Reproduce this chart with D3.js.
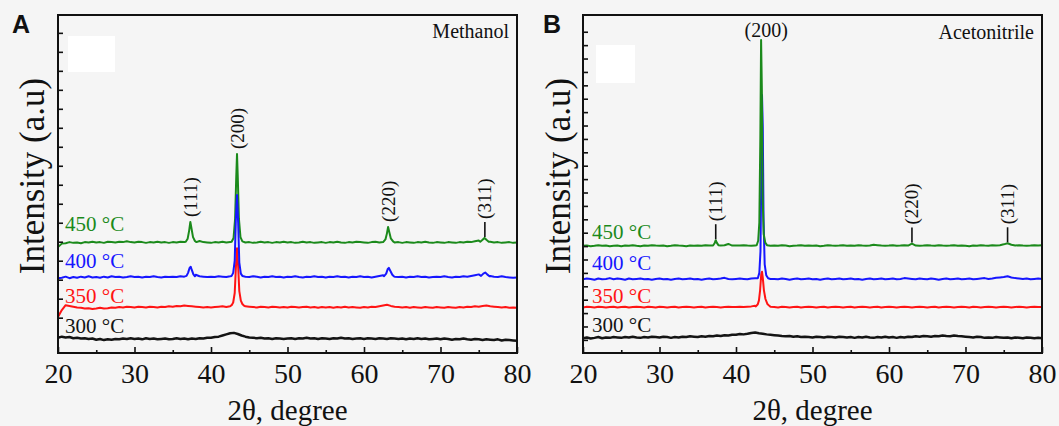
<!DOCTYPE html>
<html>
<head>
<meta charset="utf-8">
<script src="https://cdn.jsdelivr.net/npm/d3@7"></script>
<style>
  html, body { margin: 0; padding: 0; background: #f5f5f5; }
  svg { display: block; }
</style>
</head>
<body>
<svg id="chart" width="1059" height="426"></svg>
<script>
// ---------- XRD patterns (2θ from 20° to 80°, 0.5° step) ----------
const twoThetaStart = 20;
const twoThetaStep = 0.5;
const twoThetaTicks = [20, 30, 40, 50, 60, 70, 80];
const twoThetaMinorTicks = [25, 35, 45, 55, 65, 75];
const tempLabels = ["300 \u00B0C", "350 \u00B0C", "400 \u00B0C", "450 \u00B0C"];
const solventNames = ["Methanol", "Acetonitrile"];
const panelLetters = ["A", "B"];
const hklNames = ["(111)", "(200)", "(220)", "(311)"];

// Methanol (panel A), stacked intensity in a.u.
const methanol300 = [
  47,50,48,49,46,47,45,46,44,45, 42,44,41,43,42,44,43,45,44,46,
  44,45,43,46,44,45,43,44,45,43, 44,46,44,45,43,45,44,46,45,47,
  47,49,50,53,56,59,60,57,53,50, 48,47,46,47,45,46,44,46,45,44,
  45,46,44,46,45,47,45,46,44,46, 45,44,46,45,47,45,46,44,45,46,
  44,46,45,44,46,45,44,46,45,44, 45,43,45,44,46,44,45,43,44,45,
  43,45,44,42,44,43,45,43,42,44, 43,41,43,42,41,43,40,42,41,40, 39];
const methanol350 = [
  102,120,133,131,129,127,126,124,125,123, 124,126,124,125,127,126,128,127,129,128,
  127,129,128,127,129,128,127,129,128,130, 129,131,130,132,131,130,129,128,127,128,
  127,128,129,130,128,130,131,130,129,130, 129,128,127,129,128,127,129,128,127,128,
  127,129,128,127,128,129,127,128,126,128, 127,128,126,128,127,129,127,128,127,126,
  128,127,129,128,130,132,134,131,129,128, 127,128,126,128,127,126,128,127,126,128,
  127,126,128,127,126,128,127,129,128,130, 129,131,132,130,129,128,127,128,126,127, 126];
const methanol400 = [
  204,205,208,204,207,205,208,206,209,206, 207,205,208,206,209,207,208,206,207,209,
  207,208,206,208,207,209,207,206,208,207, 208,207,209,208,210,212,213,209,208,207,
  208,207,209,208,207,209,210,208,207,208, 207,209,208,206,208,207,209,207,208,206,
  208,207,209,207,206,208,207,209,207,208, 206,208,207,209,207,208,206,208,207,209,
  207,208,206,208,210,212,214,209,208,207, 208,206,208,207,209,207,208,206,207,208,
  207,209,207,206,208,207,209,208,210,212, 214,216,213,210,208,207,209,207,206,205, 206];
const methanol450 = [
  286,295,296,299,297,298,296,299,298,300, 298,299,297,300,299,298,300,299,301,299,
  298,300,299,297,299,298,300,298,299,297, 299,298,300,299,301,305,310,302,299,298,
  297,299,298,300,298,299,301,299,299,298, 299,297,298,300,298,299,297,299,298,300,
  298,299,297,298,300,298,299,297,298,299, 297,299,298,300,298,297,299,298,300,299,
  298,297,299,300,298,302,308,300,298,299, 297,299,298,297,299,298,300,298,297,299,
  298,297,299,298,297,299,298,300,299,301, 303,306,303,300,298,299,297,298,299,297, 298];

// Reflection profiles, [2θ, intensity]
const methanol300Peaks = [];
const methanol350Peaks = [
  [[42.7,133],[42.9,140],[43.1,165],[43.25,230],[43.4,283],[43.55,235],[43.7,170],[43.9,145],[44.1,136],[44.3,132]]];
const methanol400Peaks = [
  [[36.8,210],[37.0,218],[37.2,231],[37.35,234],[37.5,225],[37.7,214],[37.9,209]],
  [[42.7,210],[42.9,218],[43.1,250],[43.25,360],[43.4,423],[43.55,350],[43.7,245],[43.9,216],[44.1,210]],
  [[62.6,209],[62.9,216],[63.1,228],[63.25,231],[63.45,223],[63.7,213],[63.9,209]],
  [[75.3,210],[75.6,216],[75.85,219],[76.1,214],[76.4,209]]];
const methanol450Peaks = [
  [[36.7,300],[36.95,308],[37.15,330],[37.3,352],[37.45,335],[37.65,312],[37.9,302],[38.1,299]],
  [[42.7,300],[42.95,310],[43.15,360],[43.3,470],[43.4,531],[43.5,470],[43.65,360],[43.85,312],[44.1,301]],
  [[62.5,299],[62.8,306],[63.0,322],[63.15,339],[63.3,326],[63.5,309],[63.8,301],[64.0,298]],
  [[75.2,300],[75.5,305],[75.75,310],[76.0,305],[76.3,300]]];

// Acetonitrile (panel B), stacked intensity in a.u.
const acetonitrile300 = [
  112,118,110,115,121,112,118,115,121,118, 115,121,118,124,118,115,121,118,124,121,
  118,124,121,115,121,118,124,121,127,124, 121,127,124,129,127,132,129,135,132,138,
  138,144,141,146,152,155,149,146,141,138, 135,132,129,127,129,124,127,121,124,121,
  118,124,121,118,124,121,118,124,121,118, 121,115,121,118,124,118,115,121,118,124,
  118,121,115,121,118,124,121,127,124,129, 127,124,129,127,132,129,127,132,129,127,
  124,121,118,124,121,115,118,115,121,118, 115,118,112,118,115,112,118,115,112,115, 112];
const acetonitrile350 = [
  342,348,345,342,348,345,342,345,348,342, 345,348,342,345,348,345,342,348,345,342,
  348,345,342,345,348,342,345,348,345,342, 345,348,342,345,348,345,342,345,348,345,
  345,348,345,348,350,354,379,356,351,348, 345,342,348,345,342,345,348,342,345,348,
  345,342,345,348,342,345,348,345,342,345, 348,342,345,348,345,342,345,348,342,345,
  348,345,342,345,348,345,342,345,348,345, 342,345,348,342,345,348,345,342,345,348,
  345,342,348,345,342,345,348,345,342,345, 348,345,342,345,348,345,342,345,348,345, 345];
const acetonitrile400 = [
  552,558,555,549,558,552,555,561,552,558, 555,549,558,552,555,558,552,555,549,555,
  558,552,555,549,555,558,552,555,558,552, 555,549,555,558,552,555,558,563,555,552,
  555,558,555,552,558,560,600,565,558,555, 555,552,558,555,549,555,558,552,555,558,
  552,555,549,555,558,552,555,558,552,555, 558,552,555,549,555,558,552,555,558,552,
  555,558,552,555,561,558,555,552,558,555, 552,558,555,549,555,558,552,555,558,552,
  555,558,552,555,558,561,555,558,563,566, 569,575,566,561,558,555,558,552,555,558, 555];
const acetonitrile450 = [
  802,804,799,802,807,802,804,799,802,804, 799,804,802,807,802,799,804,802,807,804,
  802,804,799,802,807,804,802,799,804,802, 804,802,807,804,802,810,804,806,816,804,
  804,804,807,804,802,805,833,806,804,802, 804,802,807,804,799,802,804,807,802,804,
  802,804,799,802,807,804,802,804,807,802, 804,802,807,804,802,804,810,807,804,802,
  804,807,802,804,807,804,819,804,802,804, 807,804,802,807,804,802,804,807,802,804,
  802,799,804,802,807,804,802,807,804,807, 813,821,810,804,807,804,802,804,807,804, 807];

const acetonitrile300Peaks = [];
const acetonitrile350Peaks = [
  [[42.6,350],[42.85,366],[43.0,395],[43.15,470],[43.3,590],[43.4,609],[43.5,565],[43.65,470],[43.85,405],[44.1,368],[44.4,352]]];
const acetonitrile400Peaks = [
  [[42.85,560],[43.05,600],[43.2,760],[43.3,1300],[43.4,1927],[43.5,1684],[43.6,1003],[43.75,663],[43.95,583],[44.2,560]]];
const acetonitrile450Peaks = [
  [[37.0,804],[37.2,821],[37.35,844],[37.5,824],[37.7,807]],
  [[42.7,806],[42.9,840],[43.05,975],[43.18,1600],[43.28,2338],[43.38,1967],[43.48,1173],[43.62,890],[43.82,827],[44.05,807]]];

// Reflection positions (2θ) used for the hkl annotations
const methanolHklPos = [37.3, 43.4, 63.15, 75.8];
const acetonitrileHklPos = [37.35, 43.3, 63.0, 75.5];

// Hidden intensity ticks on the left axis
const methanolYDomain = [7, 897];
const methanolYTicks = d3.range(50, 851, 50);
const acetonitrileYDomain = [2, 2525];
const acetonitrileYTicks = d3.range(100, 2401, 100);

// ---------- drawing ----------
const SERIF = '"Liberation Serif", "Times New Roman", Times, serif';
const SANS = '"Liberation Sans", Arial, Helvetica, sans-serif';
const colors = ["#141414", "#ff1414", "#1616ff", "#1b8a1b"];
const svg = d3.select("#chart");

function buildSeries(grid, peaks) {
  let pts = grid.map((v, i) => [twoThetaStart + i * twoThetaStep, v]);
  peaks.forEach(g => {
    const lo = g[0][0], hi = g[g.length - 1][0];
    pts = pts.filter(p => p[0] < lo || p[0] > hi).concat(g);
  });
  return pts.sort((a, b) => a[0] - b[0]);
}

const panels = [
  {
    box: { left: 58, right: 517, top: 15, bottom: 353 },
    series: [
      buildSeries(methanol300, methanol300Peaks),
      buildSeries(methanol350, methanol350Peaks),
      buildSeries(methanol400, methanol400Peaks),
      buildSeries(methanol450, methanol450Peaks)
    ],
    drawOrder: [0, 1, 3, 2],
    yDomain: methanolYDomain, yTicks: methanolYTicks,
    hklPos: methanolHklPos,
    hklStyle: [{ lead: false }, { lead: false }, { lead: false }, { lead: true }],
    tempX: 65, tempBaselines: [333, 303, 268, 231],
    whiteBox: { x: 68, y: 36, w: 47, h: 36 },
    letterX: 12, yTitleX: 44, xTitleY: 420, solventY: 38
  },
  {
    box: { left: 583, right: 1042, top: 15, bottom: 353 },
    series: [
      buildSeries(acetonitrile300, acetonitrile300Peaks),
      buildSeries(acetonitrile350, acetonitrile350Peaks),
      buildSeries(acetonitrile400, acetonitrile400Peaks),
      buildSeries(acetonitrile450, acetonitrile450Peaks)
    ],
    drawOrder: [0, 1, 2, 3],
    yDomain: acetonitrileYDomain, yTicks: acetonitrileYTicks,
    hklPos: acetonitrileHklPos,
    hklStyle: [{ lead: true }, { lead: false, flat: true }, { lead: true }, { lead: true }],
    tempX: 592, tempBaselines: [332, 303, 270, 239],
    whiteBox: { x: 596, y: 45, w: 39, h: 38 },
    letterX: 543, yTitleX: 570, xTitleY: 420, solventY: 39
  }
];

panels.forEach((p, pi) => {
  const b = p.box;
  const x = d3.scaleLinear().domain([20, 80]).range([b.left, b.right]);
  const y = d3.scaleLinear().domain(p.yDomain).range([b.bottom, b.top]);
  const g = svg.append("g").style("font-family", SERIF);

  const clipId = "clip" + pi;
  g.append("clipPath").attr("id", clipId)
    .append("rect").attr("x", b.left).attr("y", b.top)
    .attr("width", b.right - b.left).attr("height", b.bottom - b.top);

  g.append("rect")
    .attr("x", p.whiteBox.x).attr("y", p.whiteBox.y)
    .attr("width", p.whiteBox.w).attr("height", p.whiteBox.h)
    .attr("fill", "#ffffff");

  // traces
  const line = d3.line().x(d => x(d[0])).y(d => y(d[1]));
  p.drawOrder.forEach(si => {
    g.append("path")
      .datum(p.series[si])
      .attr("clip-path", `url(#${clipId})`)
      .attr("fill", "none")
      .attr("stroke", colors[si])
      .attr("stroke-width", si === 0 ? 2.5 : 2)
      .attr("stroke-linejoin", "round")
      .attr("d", line);
  });

  // x axis (inward ticks)
  const xAxis = g.append("g")
    .attr("transform", `translate(0,${b.bottom})`)
    .call(d3.axisBottom(x).tickValues(twoThetaTicks).tickSize(-6).tickPadding(10).tickFormat(d3.format("d")));
  xAxis.select(".domain").remove();
  xAxis.selectAll("line").attr("stroke", "#111").attr("stroke-width", 1.6);
  xAxis.selectAll("text")
    .style("font-family", SERIF)
    .attr("font-size", 28).attr("fill", "#111");

  const xMinor = g.append("g")
    .attr("transform", `translate(0,${b.bottom})`)
    .call(d3.axisBottom(x).tickValues(twoThetaMinorTicks).tickSize(-3).tickFormat(""));
  xMinor.select(".domain").remove();
  xMinor.selectAll("line").attr("stroke", "#111").attr("stroke-width", 1.6);

  // y axis: ticks only
  const yAxis = g.append("g")
    .attr("transform", `translate(${b.left},0)`)
    .call(d3.axisLeft(y).tickValues(p.yTicks).tickSize(-5).tickFormat(""));
  yAxis.select(".domain").remove();
  yAxis.selectAll("line").attr("stroke", "#111").attr("stroke-width", 1.6);

  // frame
  g.append("rect")
    .attr("x", b.left).attr("y", b.top)
    .attr("width", b.right - b.left).attr("height", b.bottom - b.top)
    .attr("fill", "none").attr("stroke", "#111").attr("stroke-width", 2);

  // temperature labels
  tempLabels.forEach((t, i) => {
    g.append("text")
      .attr("x", p.tempX).attr("y", p.tempBaselines[i])
      .attr("font-size", 21).attr("fill", colors[i])
      .text(t);
  });

  // hkl annotations above the tallest trace at each reflection
  p.hklPos.forEach((pos, i) => {
    let top = -Infinity;
    p.series.forEach(s => s.forEach(d => {
      if (Math.abs(d[0] - pos) <= 0.35 && d[1] > top) top = d[1];
    }));
    const px = x(pos), py = y(top);
    const st = p.hklStyle[i];
    if (st.flat) {
      g.append("text")
        .attr("x", px + 5).attr("y", py - 3)
        .attr("text-anchor", "middle")
        .attr("font-size", 20).attr("fill", "#111")
        .text(hklNames[i]);
      return;
    }
    let start = py - 5;
    if (st.lead) {
      g.append("line")
        .attr("x1", px).attr("x2", px)
        .attr("y1", py - 1).attr("y2", py - 16)
        .attr("stroke", "#111").attr("stroke-width", 1.6);
      start = py - 19;
    }
    g.append("text")
      .attr("transform", `translate(${px},${start}) rotate(-90)`)
      .attr("dominant-baseline", "central")
      .attr("font-size", 19).attr("fill", "#111")
      .text(hklNames[i]);
  });

  // solvent tag
  g.append("text")
    .attr("x", b.right - 8).attr("y", p.solventY)
    .attr("text-anchor", "end")
    .attr("font-size", 20).attr("fill", "#111")
    .text(solventNames[pi]);

  // axis titles
  g.append("text")
    .attr("transform", `translate(${p.yTitleX},176) rotate(-90)`)
    .attr("text-anchor", "middle")
    .attr("font-size", 35).attr("fill", "#111")
    .text("Intensity (a.u)");

  g.append("text")
    .attr("x", (b.left + b.right) / 2).attr("y", p.xTitleY)
    .attr("text-anchor", "middle")
    .attr("font-size", 29).attr("fill", "#111")
    .text("2\u03B8, degree");

  // panel letter
  g.append("text")
    .attr("x", p.letterX).attr("y", 33)
    .style("font-family", SANS)
    .attr("font-weight", "bold")
    .attr("font-size", 25).attr("fill", "#111")
    .text(panelLetters[pi]);
});
</script>
</body>
</html>
